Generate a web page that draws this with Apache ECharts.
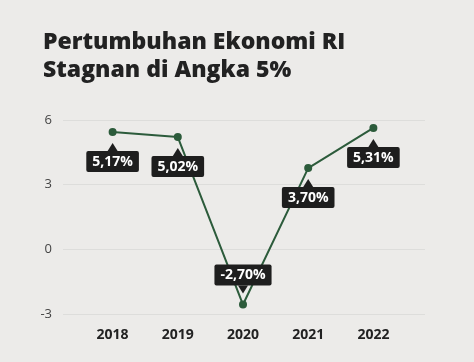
<!DOCTYPE html>
<html><head><meta charset="utf-8">
<script src="https://cdn.jsdelivr.net/npm/echarts@6/dist/echarts.min.js"></script>
<style>html,body{margin:0;padding:0;background:#ecebe9;}#c{width:474px;height:362px;}</style>
</head><body><div id="c"></div>
<script>
var titleText = 'Pertumbuhan Ekonomi RI\nStagnan di Angka 5%';
var years = ['2018', '2019', '2020', '2021', '2022'];
var growth = [5.44, 5.21, -2.56, 3.77, 5.63];
var labelTexts = ['5,17%', '5,02%', '-2,70%', '3,70%', '5,31%'];
var labelAbove = [false, false, true, false, false];
var yTicks = [-3, 0, 3, 6];

var chart = echarts.init(document.getElementById('c'), null, {renderer: 'canvas'});
var green = '#2c5b3b';
var boxColor = '#1e1e1e';

var lineData = growth.map(function (v, i) {
  return {
    value: v,
    label: {
      formatter: labelTexts[i],
      position: labelAbove[i] ? 'top' : 'bottom'
    }
  };
});
var pointerData = growth.map(function (v, i) {
  return {
    value: v,
    symbolRotate: labelAbove[i] ? 180 : 0,
    symbolOffset: [0, labelAbove[i] ? -15 : 15]
  };
});

chart.setOption({
  backgroundColor: '#ecebe9',
  animation: false,
  title: {
    text: titleText,
    left: 43, top: 28, padding: 0,
    textStyle: {fontFamily: 'Open Sans', fontWeight: 800, fontSize: 23, color: '#222', lineHeight: 28}
  },
  grid: [
    {left: 63, right: 49, top: 120, bottom: 48},
    {left: 80, right: 68, top: 120, bottom: 48}
  ],
  xAxis: [
    {gridIndex: 0, type: 'category', data: years, show: false},
    {gridIndex: 1, type: 'category', data: years,
      axisLine: {show: false}, axisTick: {show: false},
      axisLabel: {margin: 14, fontFamily: 'Open Sans', fontWeight: 700, fontSize: 14, color: '#222'}}
  ],
  yAxis: [
    {gridIndex: 0, type: 'value', min: yTicks[0], max: yTicks[yTicks.length - 1], interval: 3,
      axisLine: {show: false}, axisTick: {show: false},
      axisLabel: {margin: 11, fontFamily: 'Open Sans', fontSize: 13, color: '#444'},
      splitLine: {lineStyle: {color: '#dddddb', width: 1}}},
    {gridIndex: 1, type: 'value', min: yTicks[0], max: yTicks[yTicks.length - 1], interval: 3, show: false,
      splitLine: {show: false}}
  ],
  series: [
    {
      type: 'line', xAxisIndex: 1, yAxisIndex: 1, data: lineData,
      symbol: 'circle', symbolSize: 8,
      lineStyle: {color: green, width: 2},
      itemStyle: {color: green},
      z: 2,
      label: {
        show: true, distance: 15,
        backgroundColor: boxColor, borderRadius: 2,
        padding: [4, 6, 3, 6],
        fontFamily: 'Open Sans', fontWeight: 700, fontSize: 14, color: '#fff'
      },
      labelLayout: {moveOverlap: false}
    },
    {
      type: 'scatter', xAxisIndex: 1, yAxisIndex: 1, data: pointerData,
      symbol: 'triangle', symbolSize: [10, 8],
      itemStyle: {color: boxColor, opacity: 1}, z: 5, silent: true
    }
  ]
});
</script></body></html>
